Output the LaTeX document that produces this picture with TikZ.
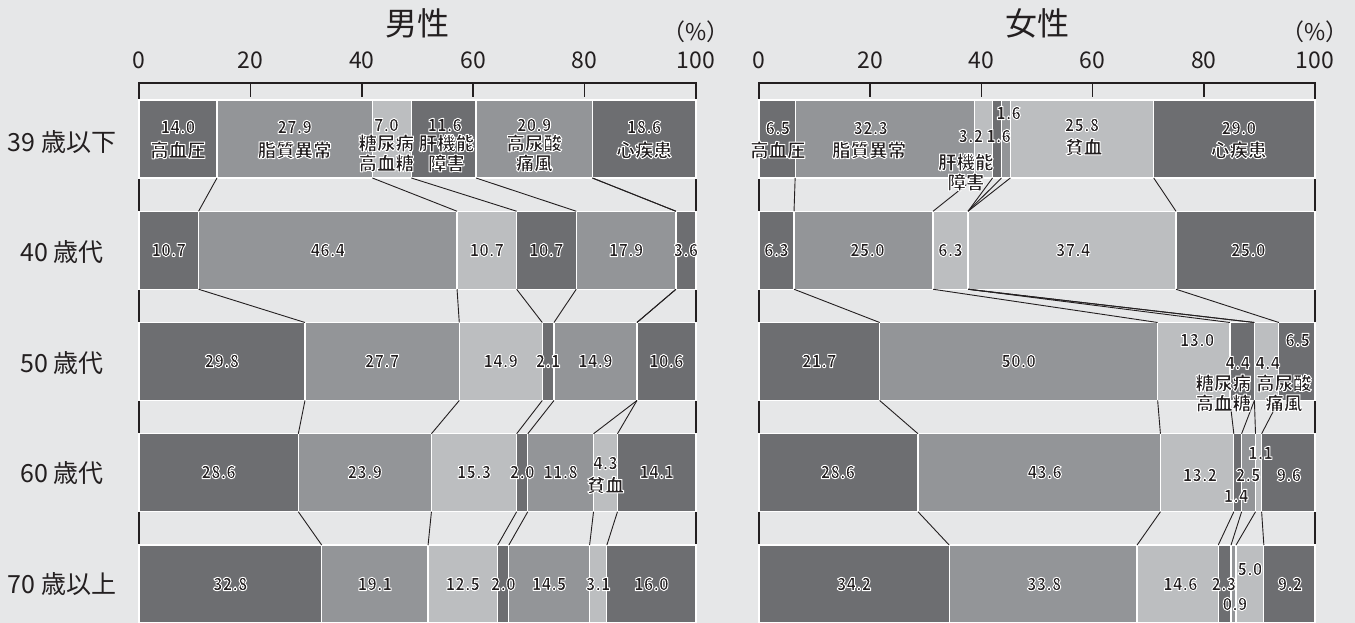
\documentclass[tikz,border=0pt]{standalone}
\usepackage{fontspec}
\setmainfont{Noto Sans CJK JP}
\newfontfamily\numfont{Noto Sans CJK JP}[FakeStretch=0.88]
\usetikzlibrary{positioning}
\usepackage{xcolor}

\definecolor{bg}{RGB}{230,231,232}
\definecolor{dk}{RGB}{109,110,113}
\definecolor{md}{RGB}{147,149,152}
\definecolor{lt}{RGB}{188,190,192}
\definecolor{ink}{RGB}{35,31,32}

% white rim round the bar labels
\newcommand\fuchi{\special{pdf:literal direct 1 G 1 j 0.95 w 2 Tr}}
\newcommand\fuchioff{\special{pdf:literal direct 0 Tr}}

\tikzset{
  seg/.style={draw=white, line width=1.2pt},
  c1/.style={seg, fill=dk}, c2/.style={seg, fill=md}, c3/.style={seg, fill=lt},
  c4/.style={seg, fill=dk}, c5/.style={seg, fill=md}, c6/.style={seg, fill=lt},
  c7/.style={seg, fill=dk},
  link/.style={ink, line width=0.9pt},
  axis/.style={ink, line width=1.5pt},
  val/.style={font=\numfont\fontsize{18}{21}\selectfont\bfseries, text=ink, inner sep=0pt},
  nm/.style={font=\fontsize{18.5}{20}\selectfont\bfseries, text=ink, align=center, inner sep=0pt},
  age/.style={font=\fontsize{25}{28}\selectfont, text=ink, inner sep=0pt},
  tick/.style={font=\fontsize{23}{26}\selectfont, text=ink, inner sep=0pt},
  title/.style={font=\fontsize{32}{36}\selectfont, text=ink, inner sep=0pt},
}

% bars of one panel, #1 = prefix, #2 = rows
\newcommand\bars[2]{%
  \foreach \r/\vals in {#2}{%
    \pgfmathsetmacro\ytop{100+111.25*\r}
    \xdef\cum{0}
    \foreach \v [count=\k] in \vals{%
      \pgfmathsetmacro\nx{\cum+\v}
      \filldraw[c\k] (\cum,\ytop) rectangle (\nx,\ytop+78);
      \coordinate (#1\r t\k) at (\nx,\ytop);
      \coordinate (#1\r b\k) at (\nx,\ytop+78);
      \xdef\cum{\nx}
    }
  }
  \foreach \r in {0,...,3}{%
    \pgfmathtruncatemacro\s{\r+1}
    \foreach \k in {1,...,6}
      \draw[link] (#1\r b\k) -- (#1\s t\k);
  }
}

\begin{document}
\begin{tikzpicture}[x=1pt, y=-1pt]
  \useasboundingbox (0,0) rectangle (1355,623);
  \fill[bg] (0,0) rectangle (1355,623);

  % age groups
  \foreach \t [count=\i from 0] in {39 歳以下, 40 歳代, 50 歳代, 60 歳代, 70 歳以上}
    \node[age] (age\i) at (62,142+110.5*\i) {\t};

  % men
  \begin{scope}[xshift=139pt, x=5.57pt]
    \node[title] (mtitle) at (50,23) {男性};
    \node[tick] (mpct) at (100,32) {（\%）};
    \foreach \t in {0,20,...,100}{
      \node[tick] (mt\t) at (\t,60) {\t};
      \draw[axis] (\t,83) -- (\t,97);
    }
    \draw[axis] (0,623) -- (0,83) -- (100,83) -- (100,623);
    \bars{m}{0/{14.0,27.9,7.0,11.6,20.9,0,18.6},
             1/{10.7,46.4,10.7,10.7,17.9,0,3.6},
             2/{29.8,27.7,14.9,2.1,14.9,0,10.6},
             3/{28.6,23.9,15.3,2.0,11.8,4.3,14.1},
             4/{32.8,19.1,12.5,2.0,14.5,3.1,16.0}}
    \foreach \x/\y/\t [count=\i] in {
        7/127/14.0, 27.95/127/27.9, 44.4/125/7.0, 54.9/125/11.6, 70.95/125/20.9, 90.7/127/18.6,
        5.35/250/10.7, 33.9/250/46.4, 62.45/250/10.7, 73.15/250/10.7, 87.45/250/17.9, 98.2/250/3.6,
        14.9/361/29.8, 43.65/361/27.7, 64.95/361/14.9, 73.45/361/2.1, 81.95/361/14.9, 94.7/361/10.6,
        14.3/472/28.6, 40.55/472/23.9, 60.15/472/15.3, 68.8/472/2.0, 75.7/472/11.8,
        83.75/463/4.3, 92.95/472/14.1,
        16.4/584/32.8, 42.35/584/19.1, 58.15/584/12.5, 65.4/584/2.0, 73.65/584/14.5,
        82.45/584/3.1, 92/584/16.0}
      \node[val] (mv\i) at (\x,\y) {\fuchi\t\fuchioff};
    \foreach \x/\y/\t [count=\i] in {
        7/150/高血圧, 27.95/150/脂質異常, 44.4/153/{糖尿病\\高血糖}, 55.2/153/{肝機能\\障害},
        70.95/153/{高尿酸\\痛風}, 90.7/150/心疾患, 83.75/485/貧血}
      \node[nm] (mn\i) at (\x,\y) {\fuchi\t\fuchioff};
  \end{scope}

  % women
  \begin{scope}[xshift=759pt, x=5.56pt]
    \node[title] (ftitle) at (50,23) {女性};
    \node[tick] (fpct) at (100,32) {（\%）};
    \foreach \t in {0,20,...,100}{
      \node[tick] (ft\t) at (\t,60) {\t};
      \draw[axis] (\t,83) -- (\t,97);
    }
    \draw[axis] (0,623) -- (0,83) -- (100,83) -- (100,623);
    \bars{f}{0/{6.5,32.3,3.2,1.6,1.6,25.8,29.0},
             1/{6.3,25.0,6.3,0,0,37.4,25.0},
             2/{21.7,50.0,13.0,4.4,0,4.4,6.5},
             3/{28.6,43.6,13.2,1.4,2.5,1.1,9.6},
             4/{34.2,33.8,14.6,2.3,0.9,5.0,9.2}}
    \foreach \x/\y/\t [count=\i] in {
        3.4/128/6.5, 20.1/128/32.3, 38.1/136/3.2, 43.1/136/1.6, 44.9/113/1.6,
        58.1/125/25.8, 86.3/128/29.0,
        3.15/250/6.3, 19.5/250/25.0, 34.45/250/6.3, 56.5/250/37.4, 88/250/25.0,
        10.85/361/21.7, 46.7/361/50.0, 78.8/340/13.0, 96.9/340/6.5, 86.1/363/4.4, 91.5/363/4.4,
        14.2/472/28.6, 51.4/472/43.6, 79.3/475/13.2, 90.2/453/1.1, 88.0/475/2.5, 85.8/496/1.4,
        95.3/475/9.6,
        17.1/584/34.2, 51.3/584/33.8, 75.8/584/14.6, 83.6/584/2.3, 85.6/604/0.9, 88.3/569/5.0,
        95.5/584/9.2}
      \node[val] (fv\i) at (\x,\y) {\fuchi\t\fuchioff};
    \foreach \x/\y/\t [count=\i] in {
        3.4/150/高血圧, 19.8/150/脂質異常, 37.2/172/{肝機能\\障害}, 58.4/147/貧血,
        86.3/150/心疾患, 83.5/393/{糖尿病\\高血糖}, 94.4/393/{高尿酸\\痛風}}
      \node[nm] (fn\i) at (\x,\y) {\fuchi\t\fuchioff};
  \end{scope}
\end{tikzpicture}
\end{document}
